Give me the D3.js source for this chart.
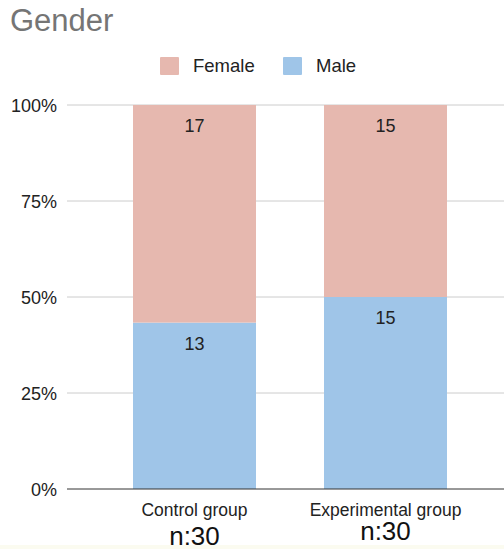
<!DOCTYPE html>
<html><head><meta charset="utf-8">
<script src="https://cdn.jsdelivr.net/npm/d3@7"></script>
<style>html,body{margin:0;padding:0;background:#fff;}svg{display:block;font-family:Arial,"Liberation Sans",sans-serif;}</style>
</head><body><div id="chart"></div>
<script>
const categories = ["Control group", "Experimental group"];
const sampleLabels = ["n:30", "n:30"];
const female = [17, 15];
const male = [13, 15];
const seriesNames = ["Female", "Male"];
const tickValues = [0, 0.25, 0.5, 0.75, 1];
const tickLabels = ["0%", "25%", "50%", "75%", "100%"];

const W = 504, H = 549;
const FONT = "Arial,'Liberation Sans',sans-serif";
const svg = d3.select("#chart").append("svg").attr("width", W).attr("height", H);
svg.append("rect").attr("x",0).attr("y",545).attr("width",W).attr("height",4).attr("fill","#fbfbf0");

const y = d3.scaleLinear().domain([0,1]).range([489,105]);
const x = d3.scaleBand().domain(categories).range([99,481]).padding(0);
const barW = 123;
const colors = {Female:"#e6b8af", Male:"#9fc5e8"};

svg.append("text").attr("x",10).attr("y",31).text("Gender")
  .attr("font-size",31).attr("fill","#757575");

// legend
const lg = svg.append("g");
seriesNames.forEach((n,i)=>{
  const sx = 160 + i*123, tx = sx + 33;
  lg.append("rect").attr("x",sx).attr("y",57).attr("width",19).attr("height",18).attr("rx",1).attr("fill",colors[n]);
  lg.append("text").attr("x",tx).attr("y",72).text(n).attr("font-size",18.5).attr("fill","#222");
});

// y axis labels
const yAxis = d3.axisLeft(y).tickValues(tickValues).tickFormat((d,i)=>tickLabels[i]).tickSize(0).tickPadding(10);
const ga = svg.append("g").attr("transform","translate(67,0)").call(yAxis);
ga.select(".domain").remove();
ga.selectAll("text").attr("font-size",18).attr("fill","#222").attr("font-family",FONT).attr("dy","0.38em");
svg.append("g").selectAll("line").data(tickValues.filter(d=>d>0)).join("line")
  .attr("x1",67).attr("x2",W).attr("y1",d=>y(d)).attr("y2",d=>y(d)).attr("stroke","#cccccc");

const stacked = categories.map((c,i)=>{
  const tot = female[i]+male[i];
  return {c, m:male[i], f:female[i], mp:male[i]/tot, tot};
});
const g = svg.append("g");
stacked.forEach(d=>{
  const cx = x(d.c)+x.bandwidth()/2;
  g.append("rect").attr("x",cx-barW/2).attr("width",barW).attr("y",y(d.mp)).attr("height",y(0)-y(d.mp)).attr("fill",colors.Male);
  g.append("rect").attr("x",cx-barW/2).attr("width",barW).attr("y",y(1)).attr("height",y(d.mp)-y(1)).attr("fill",colors.Female);
  g.append("text").attr("x",cx).attr("y",y(1)+27).attr("text-anchor","middle").attr("font-size",18).attr("fill","#222").text(d.f);
  g.append("text").attr("x",cx).attr("y",y(d.mp)+27).attr("text-anchor","middle").attr("font-size",18).attr("fill","#222").text(d.m);
});
svg.append("line").attr("x1",67).attr("x2",W).attr("y1",y(0)).attr("y2",y(0)).attr("stroke","#333").attr("stroke-width",1);

const nBaselines = [545, 540];
categories.forEach((c,i)=>{
  const cx = x(c)+x.bandwidth()/2;
  svg.append("text").attr("x",cx).attr("y",516).attr("text-anchor","middle").attr("font-size",17.5).attr("fill","#222").text(c);
  svg.append("text").attr("x",cx).attr("y",nBaselines[i]).attr("text-anchor","middle").attr("font-size",26).attr("fill","#111").text(sampleLabels[i]);
});
</script></body></html>
